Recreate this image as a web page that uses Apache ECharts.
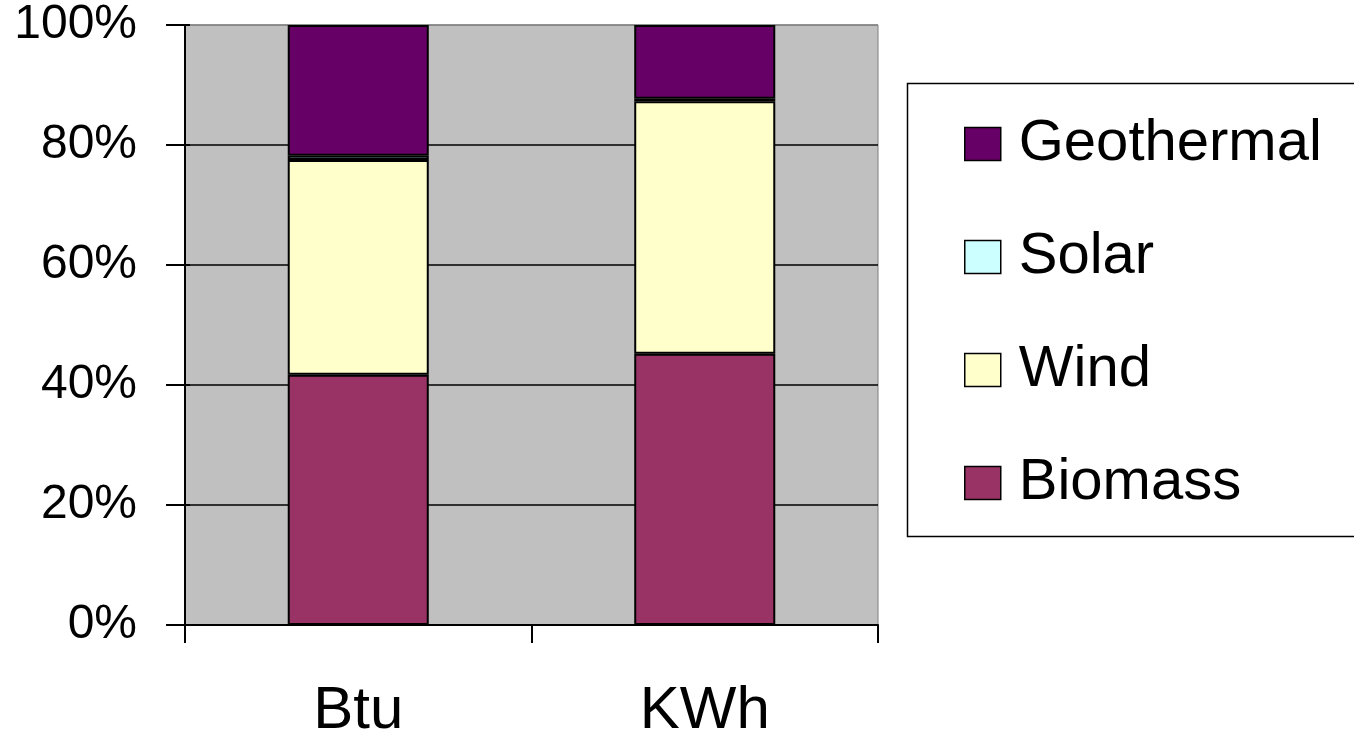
<!DOCTYPE html>
<html>
<head>
<meta charset="utf-8">
<script src="https://cdn.jsdelivr.net/npm/echarts@6/dist/echarts.min.js"></script>
<style>html,body{margin:0;padding:0;background:#fff}#c{width:1354px;height:735px}</style>
</head>
<body>
<div id="c"></div>
<script>
const categories = ['Btu', 'KWh'];
const biomass = [41.7, 45.2];
const wind = [35.8, 42.1];
const solar = [0.7, 0.4];
const geothermal = [21.8, 12.3];
const legendOrder = ['Geothermal', 'Solar', 'Wind', 'Biomass'];

const font = 'Liberation Sans, Arial, sans-serif';
const chart = echarts.init(document.getElementById('c'), null, {renderer: 'canvas'});
function s(name, data, color) {
  return {
    name, type: 'bar', stack: 'a', data, barWidth: '40.7%',
    itemStyle: {color, borderColor: '#000', borderWidth: 2},
    emphasis: {disabled: true}
  };
}
chart.setOption({
  animation: false,
  backgroundColor: '#fff',
  grid: {left: 185, right: 476, top: 25, bottom: 110, show: true, outerBoundsMode: 'none', containLabel: false,
         backgroundColor: '#C0C0C0', borderColor: '#808080', borderWidth: 1},
  xAxis: {
    type: 'category', data: categories, boundaryGap: true,
    axisLine: {lineStyle: {color: '#000', width: 2}},
    axisTick: {show: true, length: 18, alignWithLabel: false, lineStyle: {color: '#000', width: 2}},
    axisLabel: {fontFamily: font, fontSize: 60, color: '#000', margin: 56}
  },
  yAxis: [{
    type: 'value', min: 0, max: 100, interval: 20,
    axisLine: {show: true, lineStyle: {color: '#000', width: 2}},
    axisTick: {show: true, length: 19, lineStyle: {color: '#000', width: 2}},
    axisLabel: {formatter: '{value}%', fontFamily: font, fontSize: 48, color: '#000', margin: 48},
    splitLine: {show: true, lineStyle: {color: ['#000','#000','#000','#000','#000','#808080'], width: 1.5}}
  }, {
    type: 'value', min: 0, max: 100, interval: 20, position: 'left',
    axisLine: {show: false},
    axisTick: {show: true, inside: true, length: 5, lineStyle: {color: '#000', width: 2}},
    axisLabel: {show: false}, splitLine: {show: false}
  }],
  legend: {
    orient: 'vertical', left: 959, top: 110, data: legendOrder,
    itemWidth: 36, itemHeight: 33, itemGap: 55, icon: 'rect',
    itemStyle: {borderColor: '#000', borderWidth: 1.5},
    textStyle: {fontFamily: font, fontSize: 58, color: '#000', padding: [0, 0, 0, 13]}
  },
  graphic: [{
    type: 'rect', shape: {x: 907.5, y: 83.5, width: 460, height: 453},
    style: {fill: 'none', stroke: '#000', lineWidth: 1.5}, z: -1
  }],
  series: [
    s('Biomass', biomass, '#993366'),
    s('Wind', wind, '#FFFFCC'),
    s('Solar', solar, '#CCFFFF'),
    s('Geothermal', geothermal, '#660066')
  ]
});
</script>
</body>
</html>
